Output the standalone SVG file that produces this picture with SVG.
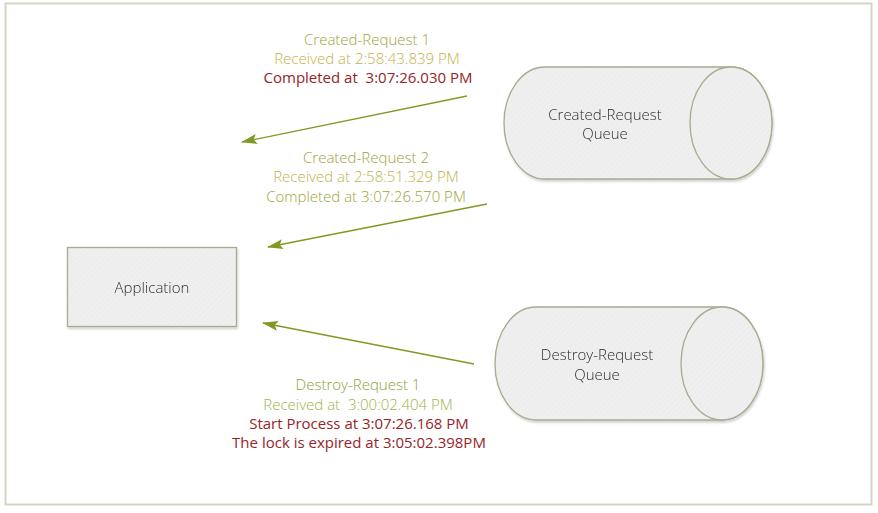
<svg xmlns="http://www.w3.org/2000/svg" width="878" height="513" viewBox="0 0 878 513">
<defs>
<pattern id="hatch" width="4" height="4" patternUnits="userSpaceOnUse" patternTransform="rotate(45)">
<rect width="4" height="4" fill="#efefef"/>
<line x1="0" y1="0" x2="0" y2="4" stroke="#e7e7e7" stroke-width="1"/>
</pattern>
<marker id="arr" viewBox="0 0 16 10" refX="15" refY="5" markerWidth="16" markerHeight="10" markerUnits="userSpaceOnUse" orient="auto">
<path d="M0,0 L16,5 L0,10 L3,5 Z" fill="#7f9a22"/>
</marker>
<filter id="sh" x="-10%" y="-10%" width="125%" height="130%">
<feDropShadow dx="1" dy="2" stdDeviation="1.2" flood-color="#000" flood-opacity="0.18"/>
</filter>
</defs>
<style>
text{font-family:"Open Sans","Liberation Sans",sans-serif;font-size:15px;font-weight:300;text-anchor:middle;dominant-baseline:central}
.node{fill:url(#hatch);stroke:#a9aa8e;stroke-width:1.3}
.lbl{fill:#2f2f2f}
.olive{fill:#a2a23a}
.gold{fill:#c4b04a}
.red{fill:#952528;font-weight:400}
.green{fill:#86a636}
.lgreen{fill:#98b64a}
.conn{stroke:#7f9a22;stroke-width:1.3;fill:none;marker-end:url(#arr)}
</style>
<rect x="5.5" y="3.5" width="866" height="501" fill="#ffffff" stroke="#d3d5c2" stroke-width="2"/>

<g id="application" filter="url(#sh)">
<rect class="node" x="67.5" y="247.5" width="169" height="79"/>
<text class="lbl" x="152" y="287">Application</text>
</g>

<g id="created-queue" filter="url(#sh)">
<path class="node" d="M545,67 L731,67 A41,56 0 0 1 731,179 L545,179 A41,56 0 0 1 545,67 Z"/>
<ellipse class="node" cx="731" cy="123" rx="41" ry="56"/>
<text class="lbl" x="605" y="114">Created-Request</text>
<text class="lbl" x="605" y="133">Queue</text>
</g>

<g id="destroy-queue" filter="url(#sh)">
<path class="node" d="M536,307 L722,307 A41,56.5 0 0 1 722,420 L536,420 A41,56.5 0 0 1 536,307 Z"/>
<ellipse class="node" cx="722" cy="363.5" rx="41" ry="56.5"/>
<text class="lbl" x="597" y="354">Destroy-Request</text>
<text class="lbl" x="597" y="374">Queue</text>
</g>

<g id="connectors">
<line class="conn" x1="467" y1="96" x2="242" y2="142"/>
<line class="conn" x1="487" y1="204" x2="268" y2="247"/>
<line class="conn" x1="474" y1="364" x2="263" y2="323"/>
</g>

<g id="labels">
<text class="olive" x="367" y="39">Created-Request 1</text>
<text class="gold" x="367" y="58">Received at 2:58:43.839 PM</text>
<text class="red" x="368" y="77" xml:space="preserve">Completed at  3:07:26.030 PM</text>
<text class="olive" x="366" y="157">Created-Request 2</text>
<text class="gold" x="366" y="176">Received at 2:58:51.329 PM</text>
<text class="olive" x="366" y="196">Completed at 3:07:26.570 PM</text>
<text class="green" x="358" y="384">Destroy-Request 1</text>
<text class="lgreen" x="358" y="404" xml:space="preserve">Received at  3:00:02.404 PM</text>
<text class="red" x="359" y="423">Start Process at 3:07:26.168 PM</text>
<text class="red" x="359" y="442">The lock is expired at 3:05:02.398PM</text>
</g>
</svg>
